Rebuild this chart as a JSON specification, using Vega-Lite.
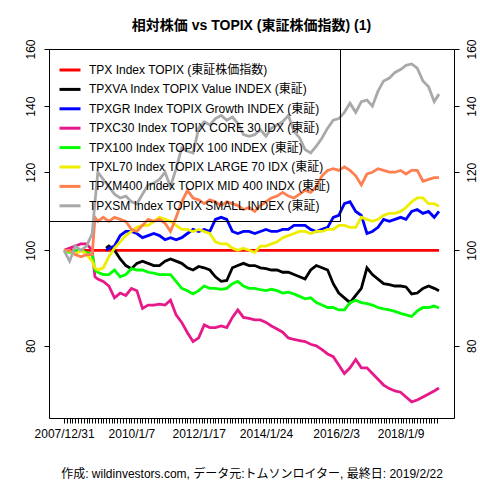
{
  "$schema": "https://vega.github.io/schema/vega-lite/v6.json",
  "width": 405,
  "height": 369,
  "autosize": {"type": "none"},
  "padding": {"left": 49, "top": 49, "right": 26, "bottom": 62},
  "background": "white",
  "config": {
    "font": "Liberation Sans, Noto Sans CJK JP",
    "view": {"stroke": "black", "strokeWidth": 1}
  },
  "title": {
    "text": "相対株価 vs TOPIX (東証株価指数) (1)",
    "fontSize": 14,
    "fontWeight": "bold",
    "color": "black",
    "anchor": "middle",
    "baseline": "bottom",
    "offset": -8
  },
  "datasets": {
    "names": [
      {"id": "TPX", "name": "TPX Index TOPIX (東証株価指数)"},
      {"id": "VA", "name": "TPXVA Index TOPIX Value INDEX (東証)"},
      {"id": "GR", "name": "TPXGR Index TOPIX Growth INDEX (東証)"},
      {"id": "C30", "name": "TPXC30 Index TOPIX CORE 30 IDX (東証)"},
      {"id": "T100", "name": "TPX100 Index TOPIX 100 INDEX (東証)"},
      {"id": "L70", "name": "TPXL70 Index TOPIX LARGE 70 IDX (東証)"},
      {"id": "M400", "name": "TPXM400 Index TOPIX MID 400 INDX (東証)"},
      {"id": "SM", "name": "TPXSM Index TOPIX SMALL INDEX (東証)"}
    ],
    "prices": [
      {"id": "TPX", "date": "2007-12-31", "value": 100},
      {"id": "TPX", "date": "2019-02-22", "value": 100},

      {"id": "VA", "date": "2009-04-01", "value": 100.5},
      {"id": "VA", "date": "2009-05-01", "value": 101},
      {"id": "VA", "date": "2009-07-01", "value": 100},
      {"id": "VA", "date": "2009-09-01", "value": 98},
      {"id": "VA", "date": "2009-11-01", "value": 96.5},
      {"id": "VA", "date": "2010-01-01", "value": 95.8},
      {"id": "VA", "date": "2010-03-01", "value": 97},
      {"id": "VA", "date": "2010-05-01", "value": 97.5},
      {"id": "VA", "date": "2010-07-01", "value": 97},
      {"id": "VA", "date": "2010-09-01", "value": 96.5},
      {"id": "VA", "date": "2010-11-01", "value": 96.5},
      {"id": "VA", "date": "2011-01-01", "value": 97.5},
      {"id": "VA", "date": "2011-03-01", "value": 98},
      {"id": "VA", "date": "2011-05-01", "value": 97.5},
      {"id": "VA", "date": "2011-07-01", "value": 97},
      {"id": "VA", "date": "2011-09-01", "value": 96},
      {"id": "VA", "date": "2011-11-01", "value": 95.5},
      {"id": "VA", "date": "2012-01-01", "value": 96.3},
      {"id": "VA", "date": "2012-03-01", "value": 96},
      {"id": "VA", "date": "2012-05-01", "value": 95.5},
      {"id": "VA", "date": "2012-07-01", "value": 94},
      {"id": "VA", "date": "2012-09-01", "value": 93},
      {"id": "VA", "date": "2012-11-01", "value": 93.2},
      {"id": "VA", "date": "2013-01-01", "value": 96},
      {"id": "VA", "date": "2013-03-01", "value": 96.5},
      {"id": "VA", "date": "2013-05-01", "value": 97},
      {"id": "VA", "date": "2013-07-01", "value": 96.5},
      {"id": "VA", "date": "2013-09-01", "value": 96.5},
      {"id": "VA", "date": "2013-11-01", "value": 96},
      {"id": "VA", "date": "2014-01-01", "value": 95.8},
      {"id": "VA", "date": "2014-03-01", "value": 95.5},
      {"id": "VA", "date": "2014-05-01", "value": 95.5},
      {"id": "VA", "date": "2014-07-01", "value": 95},
      {"id": "VA", "date": "2014-09-01", "value": 95},
      {"id": "VA", "date": "2014-11-01", "value": 94.5},
      {"id": "VA", "date": "2015-01-01", "value": 94},
      {"id": "VA", "date": "2015-03-01", "value": 93.5},
      {"id": "VA", "date": "2015-05-01", "value": 95.5},
      {"id": "VA", "date": "2015-07-01", "value": 96.5},
      {"id": "VA", "date": "2015-09-01", "value": 96},
      {"id": "VA", "date": "2015-11-01", "value": 95.5},
      {"id": "VA", "date": "2016-01-01", "value": 92.5},
      {"id": "VA", "date": "2016-03-01", "value": 90.5},
      {"id": "VA", "date": "2016-05-01", "value": 89.5},
      {"id": "VA", "date": "2016-07-01", "value": 88.5},
      {"id": "VA", "date": "2016-09-01", "value": 90},
      {"id": "VA", "date": "2016-11-01", "value": 91.5},
      {"id": "VA", "date": "2017-01-01", "value": 96},
      {"id": "VA", "date": "2017-03-01", "value": 94.5},
      {"id": "VA", "date": "2017-05-01", "value": 93.5},
      {"id": "VA", "date": "2017-07-01", "value": 92.5},
      {"id": "VA", "date": "2017-09-01", "value": 92.3},
      {"id": "VA", "date": "2017-11-01", "value": 92},
      {"id": "VA", "date": "2018-01-01", "value": 92},
      {"id": "VA", "date": "2018-03-01", "value": 91.8},
      {"id": "VA", "date": "2018-05-01", "value": 90.3},
      {"id": "VA", "date": "2018-07-01", "value": 90.5},
      {"id": "VA", "date": "2018-09-01", "value": 91.5},
      {"id": "VA", "date": "2018-11-01", "value": 92},
      {"id": "VA", "date": "2019-01-01", "value": 91.5},
      {"id": "VA", "date": "2019-02-22", "value": 91},

      {"id": "GR", "date": "2009-04-01", "value": 100},
      {"id": "GR", "date": "2009-05-01", "value": 100.5},
      {"id": "GR", "date": "2009-07-01", "value": 101},
      {"id": "GR", "date": "2009-09-01", "value": 103.5},
      {"id": "GR", "date": "2009-11-01", "value": 104.5},
      {"id": "GR", "date": "2010-01-01", "value": 104.5},
      {"id": "GR", "date": "2010-03-01", "value": 104},
      {"id": "GR", "date": "2010-05-01", "value": 103},
      {"id": "GR", "date": "2010-07-01", "value": 103.5},
      {"id": "GR", "date": "2010-09-01", "value": 104},
      {"id": "GR", "date": "2010-11-01", "value": 103.5},
      {"id": "GR", "date": "2011-01-01", "value": 102.5},
      {"id": "GR", "date": "2011-03-01", "value": 103},
      {"id": "GR", "date": "2011-05-01", "value": 102.5},
      {"id": "GR", "date": "2011-07-01", "value": 103},
      {"id": "GR", "date": "2011-09-01", "value": 104},
      {"id": "GR", "date": "2011-11-01", "value": 105},
      {"id": "GR", "date": "2012-01-01", "value": 104.5},
      {"id": "GR", "date": "2012-03-01", "value": 105},
      {"id": "GR", "date": "2012-05-01", "value": 104.5},
      {"id": "GR", "date": "2012-07-01", "value": 107.5},
      {"id": "GR", "date": "2012-09-01", "value": 108},
      {"id": "GR", "date": "2012-11-01", "value": 107.5},
      {"id": "GR", "date": "2013-01-01", "value": 104.5},
      {"id": "GR", "date": "2013-03-01", "value": 104},
      {"id": "GR", "date": "2013-05-01", "value": 104.5},
      {"id": "GR", "date": "2013-07-01", "value": 104.5},
      {"id": "GR", "date": "2013-09-01", "value": 104},
      {"id": "GR", "date": "2013-11-01", "value": 104.5},
      {"id": "GR", "date": "2014-01-01", "value": 105},
      {"id": "GR", "date": "2014-03-01", "value": 104.5},
      {"id": "GR", "date": "2014-05-01", "value": 104.5},
      {"id": "GR", "date": "2014-07-01", "value": 105},
      {"id": "GR", "date": "2014-09-01", "value": 105},
      {"id": "GR", "date": "2014-11-01", "value": 106},
      {"id": "GR", "date": "2015-01-01", "value": 106},
      {"id": "GR", "date": "2015-03-01", "value": 106},
      {"id": "GR", "date": "2015-05-01", "value": 105},
      {"id": "GR", "date": "2015-07-01", "value": 104.5},
      {"id": "GR", "date": "2015-09-01", "value": 105},
      {"id": "GR", "date": "2015-11-01", "value": 105.5},
      {"id": "GR", "date": "2016-01-01", "value": 108},
      {"id": "GR", "date": "2016-03-01", "value": 108.5},
      {"id": "GR", "date": "2016-05-01", "value": 111.5},
      {"id": "GR", "date": "2016-07-01", "value": 112},
      {"id": "GR", "date": "2016-09-01", "value": 109.5},
      {"id": "GR", "date": "2016-11-01", "value": 108.5},
      {"id": "GR", "date": "2017-01-01", "value": 104},
      {"id": "GR", "date": "2017-03-01", "value": 104.5},
      {"id": "GR", "date": "2017-05-01", "value": 105.5},
      {"id": "GR", "date": "2017-07-01", "value": 107.5},
      {"id": "GR", "date": "2017-09-01", "value": 107},
      {"id": "GR", "date": "2017-11-01", "value": 107.5},
      {"id": "GR", "date": "2018-01-01", "value": 108},
      {"id": "GR", "date": "2018-03-01", "value": 107.5},
      {"id": "GR", "date": "2018-05-01", "value": 109.5},
      {"id": "GR", "date": "2018-07-01", "value": 110},
      {"id": "GR", "date": "2018-09-01", "value": 109},
      {"id": "GR", "date": "2018-11-01", "value": 109.5},
      {"id": "GR", "date": "2019-01-01", "value": 108},
      {"id": "GR", "date": "2019-02-22", "value": 109.5},

      {"id": "C30", "date": "2007-12-31", "value": 100},
      {"id": "C30", "date": "2008-03-01", "value": 100.5},
      {"id": "C30", "date": "2008-05-01", "value": 101},
      {"id": "C30", "date": "2008-07-01", "value": 101.5},
      {"id": "C30", "date": "2008-09-01", "value": 101.5},
      {"id": "C30", "date": "2008-11-01", "value": 100},
      {"id": "C30", "date": "2008-12-01", "value": 94},
      {"id": "C30", "date": "2009-01-01", "value": 93.5},
      {"id": "C30", "date": "2009-03-01", "value": 93},
      {"id": "C30", "date": "2009-05-01", "value": 92},
      {"id": "C30", "date": "2009-07-01", "value": 89.5},
      {"id": "C30", "date": "2009-09-01", "value": 90.5},
      {"id": "C30", "date": "2009-11-01", "value": 90},
      {"id": "C30", "date": "2010-01-01", "value": 91.5},
      {"id": "C30", "date": "2010-03-01", "value": 91},
      {"id": "C30", "date": "2010-05-01", "value": 87.3},
      {"id": "C30", "date": "2010-07-01", "value": 88},
      {"id": "C30", "date": "2010-09-01", "value": 88},
      {"id": "C30", "date": "2010-11-01", "value": 88.2},
      {"id": "C30", "date": "2011-01-01", "value": 88},
      {"id": "C30", "date": "2011-03-01", "value": 89},
      {"id": "C30", "date": "2011-05-01", "value": 86},
      {"id": "C30", "date": "2011-07-01", "value": 84.5},
      {"id": "C30", "date": "2011-09-01", "value": 82.5},
      {"id": "C30", "date": "2011-11-01", "value": 80.8},
      {"id": "C30", "date": "2012-01-01", "value": 81.5},
      {"id": "C30", "date": "2012-03-01", "value": 84},
      {"id": "C30", "date": "2012-05-01", "value": 83.5},
      {"id": "C30", "date": "2012-07-01", "value": 83.5},
      {"id": "C30", "date": "2012-09-01", "value": 83.8},
      {"id": "C30", "date": "2012-11-01", "value": 83.5},
      {"id": "C30", "date": "2013-01-01", "value": 85.5},
      {"id": "C30", "date": "2013-03-01", "value": 87},
      {"id": "C30", "date": "2013-05-01", "value": 85.5},
      {"id": "C30", "date": "2013-07-01", "value": 85.3},
      {"id": "C30", "date": "2013-09-01", "value": 85},
      {"id": "C30", "date": "2013-11-01", "value": 85},
      {"id": "C30", "date": "2014-01-01", "value": 84.5},
      {"id": "C30", "date": "2014-03-01", "value": 83.8},
      {"id": "C30", "date": "2014-05-01", "value": 83.2},
      {"id": "C30", "date": "2014-07-01", "value": 82.6},
      {"id": "C30", "date": "2014-09-01", "value": 81.5},
      {"id": "C30", "date": "2014-11-01", "value": 81.2},
      {"id": "C30", "date": "2015-01-01", "value": 81},
      {"id": "C30", "date": "2015-03-01", "value": 80.8},
      {"id": "C30", "date": "2015-05-01", "value": 80.3},
      {"id": "C30", "date": "2015-07-01", "value": 80},
      {"id": "C30", "date": "2015-09-01", "value": 79.3},
      {"id": "C30", "date": "2015-11-01", "value": 78.5},
      {"id": "C30", "date": "2016-01-01", "value": 78},
      {"id": "C30", "date": "2016-03-01", "value": 76.5},
      {"id": "C30", "date": "2016-05-01", "value": 75},
      {"id": "C30", "date": "2016-07-01", "value": 76},
      {"id": "C30", "date": "2016-09-01", "value": 77.5},
      {"id": "C30", "date": "2016-11-01", "value": 76},
      {"id": "C30", "date": "2017-01-01", "value": 76},
      {"id": "C30", "date": "2017-03-01", "value": 75},
      {"id": "C30", "date": "2017-05-01", "value": 74},
      {"id": "C30", "date": "2017-07-01", "value": 73},
      {"id": "C30", "date": "2017-09-01", "value": 72.4},
      {"id": "C30", "date": "2017-11-01", "value": 72},
      {"id": "C30", "date": "2018-01-01", "value": 71.8},
      {"id": "C30", "date": "2018-03-01", "value": 71},
      {"id": "C30", "date": "2018-05-01", "value": 70.2},
      {"id": "C30", "date": "2018-07-01", "value": 70.5},
      {"id": "C30", "date": "2018-09-01", "value": 71},
      {"id": "C30", "date": "2018-11-01", "value": 71.5},
      {"id": "C30", "date": "2019-01-01", "value": 72},
      {"id": "C30", "date": "2019-02-22", "value": 72.5},

      {"id": "T100", "date": "2007-12-31", "value": 100},
      {"id": "T100", "date": "2008-03-01", "value": 99.5},
      {"id": "T100", "date": "2008-05-01", "value": 100},
      {"id": "T100", "date": "2008-07-01", "value": 100},
      {"id": "T100", "date": "2008-09-01", "value": 99.5},
      {"id": "T100", "date": "2008-11-01", "value": 99},
      {"id": "T100", "date": "2008-12-01", "value": 95.5},
      {"id": "T100", "date": "2009-01-01", "value": 95},
      {"id": "T100", "date": "2009-03-01", "value": 94.5},
      {"id": "T100", "date": "2009-05-01", "value": 94.5},
      {"id": "T100", "date": "2009-07-01", "value": 95.5},
      {"id": "T100", "date": "2009-09-01", "value": 94},
      {"id": "T100", "date": "2009-11-01", "value": 94.5},
      {"id": "T100", "date": "2010-01-01", "value": 95.8},
      {"id": "T100", "date": "2010-03-01", "value": 95.5},
      {"id": "T100", "date": "2010-05-01", "value": 95.5},
      {"id": "T100", "date": "2010-07-01", "value": 95},
      {"id": "T100", "date": "2010-09-01", "value": 94.8},
      {"id": "T100", "date": "2010-11-01", "value": 94.5},
      {"id": "T100", "date": "2011-01-01", "value": 94.5},
      {"id": "T100", "date": "2011-03-01", "value": 94.5},
      {"id": "T100", "date": "2011-05-01", "value": 93},
      {"id": "T100", "date": "2011-07-01", "value": 91.5},
      {"id": "T100", "date": "2011-09-01", "value": 91},
      {"id": "T100", "date": "2011-11-01", "value": 90.3},
      {"id": "T100", "date": "2012-01-01", "value": 91},
      {"id": "T100", "date": "2012-03-01", "value": 92},
      {"id": "T100", "date": "2012-05-01", "value": 91.5},
      {"id": "T100", "date": "2012-07-01", "value": 91.5},
      {"id": "T100", "date": "2012-09-01", "value": 91.3},
      {"id": "T100", "date": "2012-11-01", "value": 91.5},
      {"id": "T100", "date": "2013-01-01", "value": 92.5},
      {"id": "T100", "date": "2013-03-01", "value": 93},
      {"id": "T100", "date": "2013-05-01", "value": 92},
      {"id": "T100", "date": "2013-07-01", "value": 91.5},
      {"id": "T100", "date": "2013-09-01", "value": 91.5},
      {"id": "T100", "date": "2013-11-01", "value": 91.2},
      {"id": "T100", "date": "2014-01-01", "value": 91},
      {"id": "T100", "date": "2014-03-01", "value": 91.3},
      {"id": "T100", "date": "2014-05-01", "value": 91},
      {"id": "T100", "date": "2014-07-01", "value": 90.5},
      {"id": "T100", "date": "2014-09-01", "value": 90.7},
      {"id": "T100", "date": "2014-11-01", "value": 90.3},
      {"id": "T100", "date": "2015-01-01", "value": 89.8},
      {"id": "T100", "date": "2015-03-01", "value": 89.3},
      {"id": "T100", "date": "2015-05-01", "value": 89.5},
      {"id": "T100", "date": "2015-07-01", "value": 88.5},
      {"id": "T100", "date": "2015-09-01", "value": 88},
      {"id": "T100", "date": "2015-11-01", "value": 87.5},
      {"id": "T100", "date": "2016-01-01", "value": 87.5},
      {"id": "T100", "date": "2016-03-01", "value": 87},
      {"id": "T100", "date": "2016-05-01", "value": 87},
      {"id": "T100", "date": "2016-07-01", "value": 88.5},
      {"id": "T100", "date": "2016-09-01", "value": 89},
      {"id": "T100", "date": "2016-11-01", "value": 88.5},
      {"id": "T100", "date": "2017-01-01", "value": 88.3},
      {"id": "T100", "date": "2017-03-01", "value": 88},
      {"id": "T100", "date": "2017-05-01", "value": 87.5},
      {"id": "T100", "date": "2017-07-01", "value": 87.2},
      {"id": "T100", "date": "2017-09-01", "value": 87},
      {"id": "T100", "date": "2017-11-01", "value": 86.7},
      {"id": "T100", "date": "2018-01-01", "value": 86.3},
      {"id": "T100", "date": "2018-03-01", "value": 86},
      {"id": "T100", "date": "2018-05-01", "value": 85.7},
      {"id": "T100", "date": "2018-07-01", "value": 86.8},
      {"id": "T100", "date": "2018-09-01", "value": 87.5},
      {"id": "T100", "date": "2018-11-01", "value": 87.5},
      {"id": "T100", "date": "2019-01-01", "value": 87.8},
      {"id": "T100", "date": "2019-02-22", "value": 87.4},

      {"id": "L70", "date": "2007-12-31", "value": 100},
      {"id": "L70", "date": "2008-03-01", "value": 99.8},
      {"id": "L70", "date": "2008-05-01", "value": 99},
      {"id": "L70", "date": "2008-07-01", "value": 100},
      {"id": "L70", "date": "2008-09-01", "value": 99},
      {"id": "L70", "date": "2008-11-01", "value": 97.5},
      {"id": "L70", "date": "2008-12-01", "value": 96},
      {"id": "L70", "date": "2009-01-01", "value": 95.5},
      {"id": "L70", "date": "2009-03-01", "value": 96},
      {"id": "L70", "date": "2009-05-01", "value": 98.5},
      {"id": "L70", "date": "2009-07-01", "value": 100.5},
      {"id": "L70", "date": "2009-09-01", "value": 102},
      {"id": "L70", "date": "2009-11-01", "value": 103.5},
      {"id": "L70", "date": "2010-01-01", "value": 104.5},
      {"id": "L70", "date": "2010-03-01", "value": 105.5},
      {"id": "L70", "date": "2010-05-01", "value": 106},
      {"id": "L70", "date": "2010-07-01", "value": 106},
      {"id": "L70", "date": "2010-09-01", "value": 107},
      {"id": "L70", "date": "2010-11-01", "value": 108},
      {"id": "L70", "date": "2011-01-01", "value": 107.5},
      {"id": "L70", "date": "2011-03-01", "value": 107},
      {"id": "L70", "date": "2011-05-01", "value": 106},
      {"id": "L70", "date": "2011-07-01", "value": 105},
      {"id": "L70", "date": "2011-09-01", "value": 105},
      {"id": "L70", "date": "2011-11-01", "value": 104.5},
      {"id": "L70", "date": "2012-01-01", "value": 105},
      {"id": "L70", "date": "2012-03-01", "value": 104.5},
      {"id": "L70", "date": "2012-05-01", "value": 104},
      {"id": "L70", "date": "2012-07-01", "value": 102},
      {"id": "L70", "date": "2012-09-01", "value": 101.5},
      {"id": "L70", "date": "2012-11-01", "value": 101.5},
      {"id": "L70", "date": "2013-01-01", "value": 100.5},
      {"id": "L70", "date": "2013-03-01", "value": 100},
      {"id": "L70", "date": "2013-05-01", "value": 100.5},
      {"id": "L70", "date": "2013-07-01", "value": 100},
      {"id": "L70", "date": "2013-09-01", "value": 99.5},
      {"id": "L70", "date": "2013-11-01", "value": 101},
      {"id": "L70", "date": "2014-01-01", "value": 101},
      {"id": "L70", "date": "2014-03-01", "value": 101.5},
      {"id": "L70", "date": "2014-05-01", "value": 102},
      {"id": "L70", "date": "2014-07-01", "value": 103},
      {"id": "L70", "date": "2014-09-01", "value": 103.5},
      {"id": "L70", "date": "2014-11-01", "value": 104},
      {"id": "L70", "date": "2015-01-01", "value": 104.5},
      {"id": "L70", "date": "2015-03-01", "value": 104.5},
      {"id": "L70", "date": "2015-05-01", "value": 104},
      {"id": "L70", "date": "2015-07-01", "value": 104.5},
      {"id": "L70", "date": "2015-09-01", "value": 104.5},
      {"id": "L70", "date": "2015-11-01", "value": 105},
      {"id": "L70", "date": "2016-01-01", "value": 105},
      {"id": "L70", "date": "2016-03-01", "value": 106},
      {"id": "L70", "date": "2016-05-01", "value": 106},
      {"id": "L70", "date": "2016-07-01", "value": 105.5},
      {"id": "L70", "date": "2016-09-01", "value": 105.5},
      {"id": "L70", "date": "2016-11-01", "value": 108},
      {"id": "L70", "date": "2017-01-01", "value": 107.5},
      {"id": "L70", "date": "2017-03-01", "value": 107},
      {"id": "L70", "date": "2017-05-01", "value": 107.5},
      {"id": "L70", "date": "2017-07-01", "value": 108.5},
      {"id": "L70", "date": "2017-09-01", "value": 109},
      {"id": "L70", "date": "2017-11-01", "value": 109},
      {"id": "L70", "date": "2018-01-01", "value": 109.5},
      {"id": "L70", "date": "2018-03-01", "value": 110.5},
      {"id": "L70", "date": "2018-05-01", "value": 112},
      {"id": "L70", "date": "2018-07-01", "value": 113},
      {"id": "L70", "date": "2018-09-01", "value": 113},
      {"id": "L70", "date": "2018-11-01", "value": 111.5},
      {"id": "L70", "date": "2019-01-01", "value": 111.5},
      {"id": "L70", "date": "2019-02-22", "value": 110.8},

      {"id": "M400", "date": "2007-12-31", "value": 100},
      {"id": "M400", "date": "2008-03-01", "value": 100},
      {"id": "M400", "date": "2008-05-01", "value": 99},
      {"id": "M400", "date": "2008-07-01", "value": 98.5},
      {"id": "M400", "date": "2008-09-01", "value": 99},
      {"id": "M400", "date": "2008-11-01", "value": 99},
      {"id": "M400", "date": "2008-12-01", "value": 108},
      {"id": "M400", "date": "2009-01-01", "value": 107},
      {"id": "M400", "date": "2009-03-01", "value": 108},
      {"id": "M400", "date": "2009-05-01", "value": 107},
      {"id": "M400", "date": "2009-07-01", "value": 108},
      {"id": "M400", "date": "2009-09-01", "value": 107.5},
      {"id": "M400", "date": "2009-11-01", "value": 107},
      {"id": "M400", "date": "2010-01-01", "value": 105},
      {"id": "M400", "date": "2010-03-01", "value": 104.5},
      {"id": "M400", "date": "2010-05-01", "value": 106},
      {"id": "M400", "date": "2010-07-01", "value": 107.5},
      {"id": "M400", "date": "2010-09-01", "value": 107},
      {"id": "M400", "date": "2010-11-01", "value": 107.5},
      {"id": "M400", "date": "2011-01-01", "value": 106.5},
      {"id": "M400", "date": "2011-03-01", "value": 104.5},
      {"id": "M400", "date": "2011-05-01", "value": 108},
      {"id": "M400", "date": "2011-07-01", "value": 112},
      {"id": "M400", "date": "2011-09-01", "value": 115},
      {"id": "M400", "date": "2011-11-01", "value": 113},
      {"id": "M400", "date": "2012-01-01", "value": 112.5},
      {"id": "M400", "date": "2012-03-01", "value": 111.5},
      {"id": "M400", "date": "2012-05-01", "value": 112.5},
      {"id": "M400", "date": "2012-07-01", "value": 112},
      {"id": "M400", "date": "2012-09-01", "value": 111},
      {"id": "M400", "date": "2012-11-01", "value": 112},
      {"id": "M400", "date": "2013-01-01", "value": 111.5},
      {"id": "M400", "date": "2013-03-01", "value": 111},
      {"id": "M400", "date": "2013-05-01", "value": 110},
      {"id": "M400", "date": "2013-07-01", "value": 110.5},
      {"id": "M400", "date": "2013-09-01", "value": 109.5},
      {"id": "M400", "date": "2013-11-01", "value": 111},
      {"id": "M400", "date": "2014-01-01", "value": 112},
      {"id": "M400", "date": "2014-03-01", "value": 113},
      {"id": "M400", "date": "2014-05-01", "value": 113.5},
      {"id": "M400", "date": "2014-07-01", "value": 114.5},
      {"id": "M400", "date": "2014-09-01", "value": 113.5},
      {"id": "M400", "date": "2014-11-01", "value": 113},
      {"id": "M400", "date": "2015-01-01", "value": 114},
      {"id": "M400", "date": "2015-03-01", "value": 115},
      {"id": "M400", "date": "2015-05-01", "value": 114.5},
      {"id": "M400", "date": "2015-07-01", "value": 116},
      {"id": "M400", "date": "2015-09-01", "value": 119},
      {"id": "M400", "date": "2015-11-01", "value": 120.5},
      {"id": "M400", "date": "2016-01-01", "value": 121},
      {"id": "M400", "date": "2016-03-01", "value": 120.5},
      {"id": "M400", "date": "2016-05-01", "value": 121.5},
      {"id": "M400", "date": "2016-07-01", "value": 120.5},
      {"id": "M400", "date": "2016-09-01", "value": 119},
      {"id": "M400", "date": "2016-11-01", "value": 116.5},
      {"id": "M400", "date": "2017-01-01", "value": 119.5},
      {"id": "M400", "date": "2017-03-01", "value": 120},
      {"id": "M400", "date": "2017-05-01", "value": 121},
      {"id": "M400", "date": "2017-07-01", "value": 120.5},
      {"id": "M400", "date": "2017-09-01", "value": 120},
      {"id": "M400", "date": "2017-11-01", "value": 120},
      {"id": "M400", "date": "2018-01-01", "value": 120.5},
      {"id": "M400", "date": "2018-03-01", "value": 119.5},
      {"id": "M400", "date": "2018-05-01", "value": 120.5},
      {"id": "M400", "date": "2018-07-01", "value": 120.5},
      {"id": "M400", "date": "2018-09-01", "value": 117.5},
      {"id": "M400", "date": "2018-11-01", "value": 118},
      {"id": "M400", "date": "2019-01-01", "value": 118.5},
      {"id": "M400", "date": "2019-02-22", "value": 118.5},

      {"id": "SM", "date": "2007-12-31", "value": 100},
      {"id": "SM", "date": "2008-03-01", "value": 97.5},
      {"id": "SM", "date": "2008-05-01", "value": 101},
      {"id": "SM", "date": "2008-07-01", "value": 100},
      {"id": "SM", "date": "2008-09-01", "value": 101},
      {"id": "SM", "date": "2008-11-01", "value": 104},
      {"id": "SM", "date": "2008-12-01", "value": 112},
      {"id": "SM", "date": "2009-01-01", "value": 120},
      {"id": "SM", "date": "2009-03-01", "value": 118},
      {"id": "SM", "date": "2009-05-01", "value": 116},
      {"id": "SM", "date": "2009-07-01", "value": 114},
      {"id": "SM", "date": "2009-09-01", "value": 113},
      {"id": "SM", "date": "2009-11-01", "value": 113.5},
      {"id": "SM", "date": "2010-01-01", "value": 112},
      {"id": "SM", "date": "2010-03-01", "value": 111.5},
      {"id": "SM", "date": "2010-05-01", "value": 114},
      {"id": "SM", "date": "2010-07-01", "value": 116.5},
      {"id": "SM", "date": "2010-09-01", "value": 117},
      {"id": "SM", "date": "2010-11-01", "value": 118},
      {"id": "SM", "date": "2011-01-01", "value": 120},
      {"id": "SM", "date": "2011-03-01", "value": 116},
      {"id": "SM", "date": "2011-05-01", "value": 121},
      {"id": "SM", "date": "2011-07-01", "value": 127},
      {"id": "SM", "date": "2011-09-01", "value": 126},
      {"id": "SM", "date": "2011-11-01", "value": 125.5},
      {"id": "SM", "date": "2012-01-01", "value": 133},
      {"id": "SM", "date": "2012-03-01", "value": 135},
      {"id": "SM", "date": "2012-05-01", "value": 134},
      {"id": "SM", "date": "2012-07-01", "value": 136},
      {"id": "SM", "date": "2012-09-01", "value": 137},
      {"id": "SM", "date": "2012-11-01", "value": 135.5},
      {"id": "SM", "date": "2013-01-01", "value": 136.5},
      {"id": "SM", "date": "2013-03-01", "value": 134.5},
      {"id": "SM", "date": "2013-05-01", "value": 131},
      {"id": "SM", "date": "2013-07-01", "value": 130.5},
      {"id": "SM", "date": "2013-09-01", "value": 131},
      {"id": "SM", "date": "2013-11-01", "value": 132.5},
      {"id": "SM", "date": "2014-01-01", "value": 130.5},
      {"id": "SM", "date": "2014-03-01", "value": 133},
      {"id": "SM", "date": "2014-05-01", "value": 134},
      {"id": "SM", "date": "2014-07-01", "value": 135},
      {"id": "SM", "date": "2014-09-01", "value": 137},
      {"id": "SM", "date": "2014-11-01", "value": 132},
      {"id": "SM", "date": "2015-01-01", "value": 130},
      {"id": "SM", "date": "2015-03-01", "value": 126.5},
      {"id": "SM", "date": "2015-05-01", "value": 125.5},
      {"id": "SM", "date": "2015-07-01", "value": 127.5},
      {"id": "SM", "date": "2015-09-01", "value": 130},
      {"id": "SM", "date": "2015-11-01", "value": 133},
      {"id": "SM", "date": "2016-01-01", "value": 135.5},
      {"id": "SM", "date": "2016-03-01", "value": 136},
      {"id": "SM", "date": "2016-05-01", "value": 138},
      {"id": "SM", "date": "2016-07-01", "value": 141},
      {"id": "SM", "date": "2016-09-01", "value": 138},
      {"id": "SM", "date": "2016-11-01", "value": 141.5},
      {"id": "SM", "date": "2017-01-01", "value": 142},
      {"id": "SM", "date": "2017-03-01", "value": 140},
      {"id": "SM", "date": "2017-05-01", "value": 145},
      {"id": "SM", "date": "2017-07-01", "value": 148.5},
      {"id": "SM", "date": "2017-09-01", "value": 149.5},
      {"id": "SM", "date": "2017-11-01", "value": 151.5},
      {"id": "SM", "date": "2018-01-01", "value": 152.5},
      {"id": "SM", "date": "2018-03-01", "value": 154},
      {"id": "SM", "date": "2018-05-01", "value": 154.5},
      {"id": "SM", "date": "2018-07-01", "value": 153},
      {"id": "SM", "date": "2018-09-01", "value": 148.5},
      {"id": "SM", "date": "2018-11-01", "value": 146.5},
      {"id": "SM", "date": "2019-01-01", "value": 141.5},
      {"id": "SM", "date": "2019-02-22", "value": 144}
    ]
  },
  "data": {"name": "prices"},
  "transform": [
    {"lookup": "id", "from": {"data": {"name": "names"}, "key": "id", "fields": ["name"]}}
  ],
  "encoding": {
    "x": {
      "field": "date",
      "type": "temporal",
      "scale": {
        "domain": [{"year": 2007, "month": 7, "date": 21}, {"year": 2019, "month": 8, "date": 4}]
      },
      "axis": {
        "title": "作成: wildinvestors.com, データ元:トムソンロイター, 最終日: 2019/2/22",
        "titleFontSize": 12,
        "titleFontWeight": "normal",
        "titleColor": "black",
        "titleY": 55,
        "titleBaseline": "middle",
        "tickCount": {"interval": "month", "step": 1},
        "tickSize": 5,
        "tickColor": "black",
        "tickOpacity": {
          "condition": {"test": "datum.value < datetime(2007, 11, 20) || datum.value > datetime(2019, 1, 28)", "value": 0},
          "value": 1
        },
        "domain": false,
        "grid": false,
        "labelExpr": "indexof(['2008-01','2010-01','2012-01','2014-01','2016-02','2018-01'], timeFormat(datum.value, '%Y-%m')) < 0 ? '' : ['2007/12/31','2010/1/7','2012/1/17','2014/1/24','2016/2/3','2018/1/9'][indexof(['2008-01','2010-01','2012-01','2014-01','2016-02','2018-01'], timeFormat(datum.value, '%Y-%m'))]",
        "labelOverlap": false,
        "labelFlush": false,
        "labelBound": false,
        "labelFontSize": 12,
        "labelColor": "black",
        "labelPadding": 5
      }
    }
  },
  "layer": [
    {
      "mark": {"type": "line", "strokeWidth": 2.8},
      "encoding": {
        "y": {
          "field": "value",
          "type": "quantitative",
          "scale": {"type": "log", "domain": [67.6, 160], "nice": false, "zero": false},
          "axis": {
            "orient": "left",
            "title": null,
            "values": [80, 100, 120, 140, 160],
            "format": "d",
            "grid": false,
            "domain": false,
            "tickSize": 5,
            "tickColor": "black",
            "labelAngle": -90,
            "labelAlign": "center",
            "labelBaseline": "bottom",
            "labelPadding": 7,
            "labelFontSize": 12,
            "labelColor": "black"
          }
        },
        "color": {
          "field": "name",
          "type": "nominal",
          "scale": {
            "domain": [
              "TPX Index TOPIX (東証株価指数)",
              "TPXVA Index TOPIX Value INDEX (東証)",
              "TPXGR Index TOPIX Growth INDEX (東証)",
              "TPXC30 Index TOPIX CORE 30 IDX (東証)",
              "TPX100 Index TOPIX 100 INDEX (東証)",
              "TPXL70 Index TOPIX LARGE 70 IDX (東証)",
              "TPXM400 Index TOPIX MID 400 INDX (東証)",
              "TPXSM Index TOPIX SMALL INDEX (東証)"
            ],
            "range": ["#FF0000", "#000000", "#0000FF", "#E7198A", "#00FF00", "#EEEE00", "#FF7F50", "#A9A9A9"]
          },
          "legend": {
            "title": null,
            "orient": "none",
            "legendX": 0,
            "legendY": 0,
            "direction": "vertical",
            "symbolType": "stroke",
            "symbolStrokeWidth": 3,
            "symbolSize": 441,
            "labelFontSize": 12,
            "labelColor": "black",
            "labelOffset": 7,
            "labelLimit": 400,
            "rowPadding": 1.4,
            "padding": 9,
            "strokeColor": "black"
          }
        }
      }
    },
    {
      "transform": [{"filter": "datum.id == 'TPX'"}],
      "mark": {"type": "line", "opacity": 0},
      "encoding": {
        "y": {
          "field": "value",
          "type": "quantitative",
          "scale": {"type": "log", "domain": [67.6, 160], "nice": false, "zero": false},
          "axis": {
            "orient": "right",
            "title": null,
            "values": [80, 100, 120, 140, 160],
            "format": "d",
            "grid": false,
            "domain": false,
            "tickSize": 5,
            "tickColor": "black",
            "labelAngle": -90,
            "labelAlign": "center",
            "labelBaseline": "top",
            "labelPadding": 7,
            "labelFontSize": 12,
            "labelColor": "black"
          }
        }
      }
    }
  ],
  "resolve": {"axis": {"y": "independent"}}
}
